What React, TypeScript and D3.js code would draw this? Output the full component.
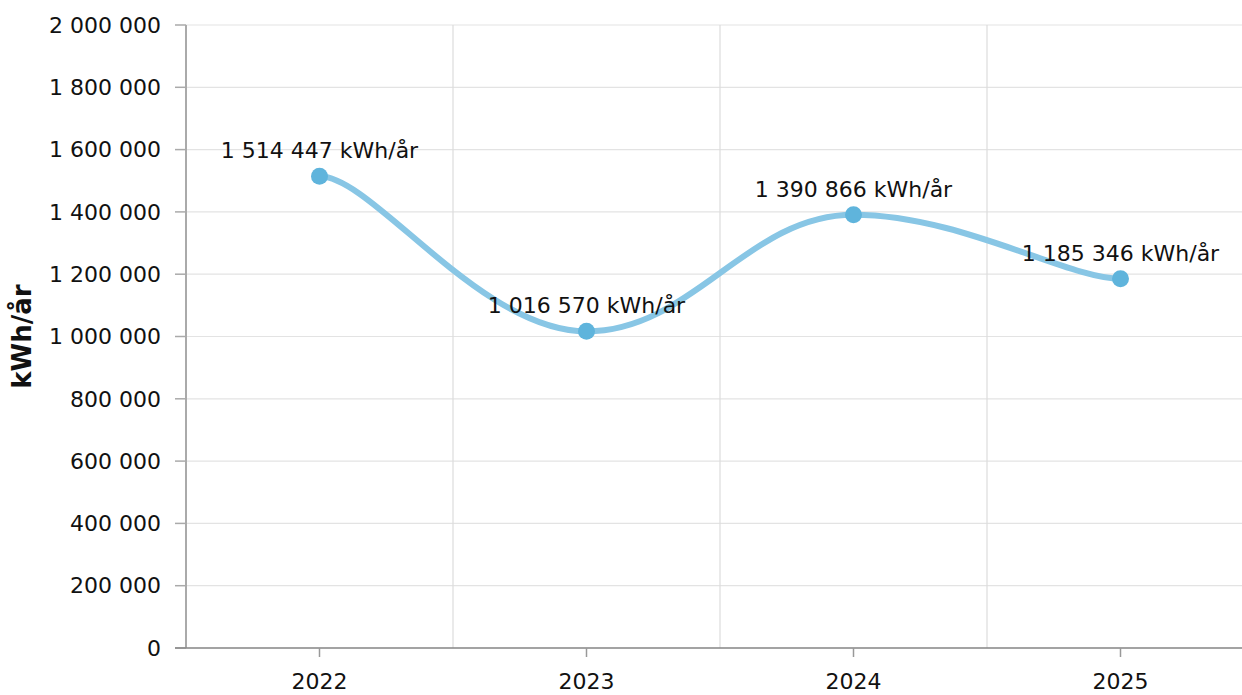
import { useMemo } from 'react';
import * as d3 from 'd3';

const years = ['2022', '2023', '2024', '2025'];
const values = [1514447, 1016570, 1390866, 1185346];
const yTicks = [0, 200000, 400000, 600000, 800000, 1000000, 1200000, 1400000, 1600000, 1800000, 2000000];

const WIDTH = 1242;
const HEIGHT = 695;
const FONT = 'DejaVu Sans, Verdana, sans-serif';

// thousands separated by a space, Swedish style
const fmt = (v: number) => d3.format(',')(v).replace(/,/g, '\u00a0');

// spline with flattened control points at extrema (no overshoot),
// endpoints get a short horizontal handle
function splinePath(p: [number, number][]) {
  const s = 1.5;
  const path = d3.path();
  if (!p.length) return '';
  path.moveTo(p[0][0], p[0][1]);
  const endArm = p.length > 1 ? (p[1][0] - p[0][0]) / 5 : 0;
  let prevRight: [number, number] = [p[0][0] + endArm, p[0][1]];
  for (let i = 1; i < p.length; i++) {
    const [px, py] = p[i];
    let left: [number, number] = [px - endArm, py];
    let right: [number, number] = [px, py];
    const next = p[i + 1];
    if (next) {
      const [lx, ly] = p[i - 1];
      const [nx, ny] = next;
      const lcx = (s * px + lx) / (s + 1);
      let lcy = (s * py + ly) / (s + 1);
      const rcx = (s * px + nx) / (s + 1);
      let rcy = (s * py + ny) / (s + 1);
      const corr = ((rcy - lcy) * (rcx - px)) / (rcx - lcx) + py - rcy;
      lcy += corr;
      rcy += corr;
      if (lcy > ly && lcy > py) { lcy = Math.max(ly, py); rcy = 2 * py - lcy; }
      else if (lcy < ly && lcy < py) { lcy = Math.min(ly, py); rcy = 2 * py - lcy; }
      if (rcy > ny && rcy > py) { rcy = Math.max(ny, py); lcy = 2 * py - rcy; }
      else if (rcy < ny && rcy < py) { rcy = Math.min(ny, py); lcy = 2 * py - rcy; }
      left = [lcx, lcy];
      right = [rcx, rcy];
    }
    path.bezierCurveTo(prevRight[0], prevRight[1], left[0], left[1], px, py);
    prevRight = right;
  }
  return path.toString();
}

export default function App() {
  const x = useMemo(() => d3.scaleBand<string>().domain(years).range([186, 1254]).padding(0), []);
  const y = useMemo(() => d3.scaleLinear().domain([0, 2000000]).range([648, 25]), []);

  const cx = (yr: string) => (x(yr) || 0) + x.bandwidth() / 2;
  const pts: [number, number][] = years.map((yr, i) => [cx(yr), y(values[i])]);

  const bandEdges = years.slice(1).map(yr => x(yr) || 0);

  return (
    <div style={{ position: 'fixed', left: 0, top: 0 }}>
      <svg width={WIDTH} height={HEIGHT} style={{ display: 'block', fontFamily: FONT }}>
        <rect width={WIDTH} height={HEIGHT} fill="#fff" />

        {/* horizontal grid */}
        {yTicks.map(t => (
          <line key={t} x1={186} x2={WIDTH} y1={y(t)} y2={y(t)} stroke="#e3e3e3" strokeWidth={1.2} />
        ))}
        {/* vertical grid at band edges */}
        {bandEdges.map((e, i) => (
          <line key={i} x1={e} x2={e} y1={25} y2={648} stroke="#dcdcdc" strokeWidth={1.2} />
        ))}

        {/* y axis */}
        <line x1={186} x2={186} y1={25} y2={648} stroke="#aaa" strokeWidth={2} />
        {yTicks.map(t => (
          <g key={t} transform={`translate(0,${y(t)})`}>
            <line x1={175} x2={186} stroke="#aaa" strokeWidth={1.5} />
            <text x={161} dy="0.35em" textAnchor="end" fontSize={22} fill="#111">{fmt(t)}</text>
          </g>
        ))}
        <text
          transform={`translate(31,${(25 + 648) / 2}) rotate(-90)`}
          textAnchor="middle"
          fontSize={26}
          fontWeight="bold"
          fill="#111"
        >kWh/år</text>

        {/* x axis */}
        <line x1={175} x2={WIDTH} y1={648} y2={648} stroke="#888" strokeWidth={1.5} />
        {years.map(yr => (
          <g key={yr} transform={`translate(${cx(yr)},648)`}>
            <line y1={0} y2={9} stroke="#999" strokeWidth={1.5} />
            <text y={41} textAnchor="middle" fontSize={22} fill="#111">{yr}</text>
          </g>
        ))}

        {/* series */}
        <path d={splinePath(pts)} fill="none" stroke="#88c6e5" strokeWidth={6} strokeLinecap="round" />
        {years.map((yr, i) => (
          <circle key={yr} cx={cx(yr)} cy={y(values[i])} r={8.5} fill="#5fb4dc" />
        ))}
        {years.map((yr, i) => (
          <text
            key={yr}
            x={cx(yr)}
            y={y(values[i]) - 18}
            textAnchor="middle"
            fontSize={22}
            fill="#111"
          >{fmt(values[i])} kWh/år</text>
        ))}
      </svg>
    </div>
  );
}
